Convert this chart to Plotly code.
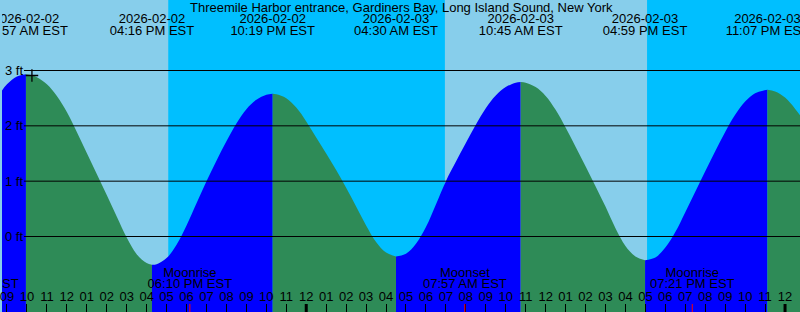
import pandas as pd
import plotly.graph_objects as go

# ---------------- data ----------------
TITLE = "Threemile Harbor entrance, Gardiners Bay, Long Island Sound, New York"
TZ = "EST"
range_start = "2026-02-02 08:45"
range_end = "2026-02-04 00:45"

# tide height readings (ft): window start, half-hourly from 09:00 Feb 2 to 00:30 Feb 4, window end
start_height = 2.64
end_height = 2.19
halfhour_start = "2026-02-02 09:00"
halfhour_heights = [
    2.75, 2.89, 2.93, 2.88, 2.75, 2.54, 2.25, 1.89, 1.51, 1.13,
    0.75, 0.36, -0.02, -0.32, -0.48, -0.50, -0.39, -0.15, 0.20, 0.60,
    1.00, 1.37, 1.72, 2.04, 2.30, 2.47, 2.56, 2.57, 2.50, 2.33,
    2.08, 1.79, 1.50, 1.20, 0.88, 0.54, 0.20, -0.10, -0.29, -0.36,
    -0.31, -0.13, 0.17, 0.58, 1.00, 1.35, 1.69, 2.02, 2.32, 2.55,
    2.70, 2.78, 2.78, 2.70, 2.54, 2.29, 1.97, 1.62, 1.27, 0.91,
    0.54, 0.15, -0.17, -0.36, -0.43, -0.38, -0.20, 0.08, 0.44, 0.81,
    1.18, 1.54, 1.89, 2.20, 2.44, 2.59, 2.65, 2.62, 2.51, 2.31,
]

extreme_times = ["2026-02-02 09:57", "2026-02-02 16:16", "2026-02-02 22:19",
                 "2026-02-03 04:30", "2026-02-03 10:45", "2026-02-03 16:59",
                 "2026-02-03 23:07"]
extreme_heights = [2.93, -0.51, 2.58, -0.36, 2.79, -0.43, 2.65]

moon_times = ["2026-02-02 07:29", "2026-02-02 18:10", "2026-02-03 07:57", "2026-02-03 19:21"]
moon_names = ["Moonset", "Moonrise", "Moonset", "Moonrise"]

night_starts = ["2026-02-02 17:05", "2026-02-03 17:05"]
night_ends = ["2026-02-03 06:57", "2026-02-04 06:57"]
day_boundaries = ["2026-02-03 00:00", "2026-02-04 00:00"]

now_time = "2026-02-02 10:15"
now_height = 2.91

grid_levels = [0, 1, 2, 3]

# ---------------- styles ----------------
FONT = "Liberation Sans, Arial, Helvetica, sans-serif"
DAY = "#87CEEB"
NIGHT = "#00BFFF"
RISING = "#0000FF"
FALLING = "#2E8B57"
W, H = 800, 312
PX_PER_FT = 166 / 3.0
ZERO_ROW = 236.5
YMAX = ZERO_ROW / PX_PER_FT
YMIN = -(H - ZERO_ROW) / PX_PER_FT
BASE = YMIN - 1

# ---------------- build series ----------------
t0, t1 = pd.Timestamp(range_start), pd.Timestamp(range_end)
hh_times = list(pd.date_range(halfhour_start, periods=len(halfhour_heights), freq="30min"))
samples = pd.DataFrame({"t": [t0] + hh_times + [t1],
                        "h": [start_height] + halfhour_heights + [end_height]})
ext = pd.DataFrame({"t": pd.to_datetime(extreme_times), "h": extreme_heights})
keep = samples["t"].apply(lambda t: (abs(ext["t"] - t) > pd.Timedelta(minutes=10)).all())
series = pd.concat([samples[keep], ext]).sort_values("t").reset_index(drop=True)

fig = go.Figure()

bounds = [t0] + list(ext["t"]) + [t1]
for a, b in zip(bounds[:-1], bounds[1:]):
    seg = series[(series["t"] >= a) & (series["t"] <= b)]
    rising = seg["h"].iloc[-1] > seg["h"].iloc[0]
    col = RISING if rising else FALLING
    fig.add_trace(go.Scatter(x=[seg["t"].iloc[0], seg["t"].iloc[-1]], y=[BASE, BASE],
                             mode="lines", line=dict(width=0), hoverinfo="skip"))
    fig.add_trace(go.Scatter(x=seg["t"], y=seg["h"], mode="lines",
                             line=dict(width=0, shape="spline", smoothing=1.0),
                             fill="tonexty", fillcolor=col, hoverinfo="skip"))

# current-time marker
fig.add_trace(go.Scatter(x=[now_time], y=[now_height], mode="markers",
                         marker=dict(symbol="cross-thin", size=9,
                                     line=dict(width=1.3, color="black"))))

# high/low labels at top
ext_dt = pd.to_datetime(extreme_times)
fig.add_trace(go.Scatter(x=ext_dt, y=[19.5] * len(ext_dt), yaxis="y2", mode="text",
                         text=[d.strftime("%Y-%m-%d") for d in ext_dt],
                         textposition="middle center", cliponaxis=True,
                         textfont=dict(family=FONT, size=13, color="black")))
fig.add_trace(go.Scatter(x=ext_dt, y=[31.5] * len(ext_dt), yaxis="y2", mode="text",
                         text=[d.strftime("%I:%M %p ") + TZ for d in ext_dt],
                         textposition="middle center", cliponaxis=True,
                         textfont=dict(family=FONT, size=13, color="black")))

# moon labels
moon_dt = pd.to_datetime(moon_times)
fig.add_trace(go.Scatter(x=moon_dt, y=[273.7] * len(moon_dt), yaxis="y2", mode="text",
                         text=moon_names, textposition="middle center", cliponaxis=True,
                         textfont=dict(family=FONT, size=13, color="black")))
fig.add_trace(go.Scatter(x=moon_dt, y=[285.2] * len(moon_dt), yaxis="y2", mode="text",
                         text=[d.strftime("%I:%M %p ") + TZ for d in moon_dt],
                         textposition="middle center", cliponaxis=True,
                         textfont=dict(family=FONT, size=13, color="black")))

shapes = []
for s, e in zip(night_starts, night_ends):
    shapes.append(dict(type="rect", xref="x", yref="paper", x0=s, x1=e, y0=0, y1=1,
                       fillcolor=NIGHT, line=dict(width=0), layer="below"))
for lv in grid_levels:
    shapes.append(dict(type="line", xref="paper", yref="y", x0=22 / W, x1=1, y0=lv, y1=lv,
                       line=dict(color="black", width=1), layer="above"))
for d in day_boundaries:
    shapes.append(dict(type="line", xref="x", yref="paper", x0=d, x1=d, y0=0, y1=8 / H,
                       line=dict(color="black", width=3), layer="above"))
for d in moon_dt:
    if t0 <= d <= t1:
        shapes.append(dict(type="line", xref="x", yref="paper", x0=d, x1=d, y0=0, y1=8 / H,
                           line=dict(color="red", width=1), layer="above"))

annotations = [dict(text=TITLE, xref="paper", yref="paper", x=0.5, y=1 - 7.2 / H,
                    xanchor="center", yanchor="middle", showarrow=False,
                    font=dict(family=FONT, size=13, color="black"))]
for lv in grid_levels:
    annotations.append(dict(text=f"{lv} ft", xref="paper", yref="y", x=0, y=lv, xshift=1,
                            xanchor="left", yanchor="middle", showarrow=False,
                            font=dict(family=FONT, size=13, color="black")))

fig.update_layout(
    width=W, height=H, margin=dict(l=0, r=0, t=0, b=0),
    paper_bgcolor=DAY, plot_bgcolor=DAY, showlegend=False,
    shapes=shapes, annotations=annotations,
    xaxis=dict(type="date", range=[t0, t1], showgrid=False, zeroline=False, showline=False,
               ticks="inside", ticklen=8, tickwidth=1, tickcolor="black",
               tick0="2026-02-02 00:00", dtick=3600000, tickformat="%I",
               ticklabelposition="inside", ticklabeloverflow="allow",
               tickfont=dict(family=FONT, size=13, color="black"), fixedrange=True),
    yaxis=dict(range=[YMIN, YMAX], showgrid=False, zeroline=False, showticklabels=False,
               ticks="", fixedrange=True),
    yaxis2=dict(range=[H, 0], overlaying="y", visible=False, fixedrange=True),
)

fig.write_html("out.html")
